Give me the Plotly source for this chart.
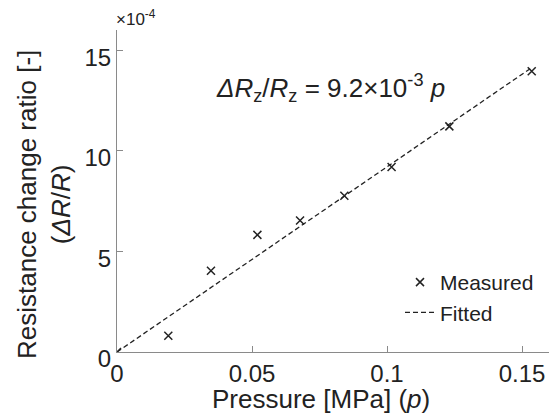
import plotly.graph_objects as go

# Data (y values in units of 1e-4)
pressure_mpa = [0.0, 0.019, 0.0348, 0.052, 0.0678, 0.0842, 0.1017, 0.1231, 0.1536]
ratio_e4 = [0.0, 0.81, 4.04, 5.82, 6.53, 7.76, 9.19, 11.21, 13.95]
fit_slope = 9.2e-3  # ratio per MPa
fit_p = [0.0, 0.1536]
fit_ratio_e4 = [fit_slope * p * 1e4 for p in fit_p]

x_tickvals = [0, 0.05, 0.1, 0.15]
x_ticktext = ["0", "0.05", "0.1", "0.15"]
y_tickvals = [0, 5, 10, 15]
y_ticktext = ["0", "5", "10", "15"]

FONT = "Liberation Sans, Arial, sans-serif"
AXCOL = "#8a8a8a"
TXT = "#222"

OFF = 8  # page body margin
W, H = 558 - OFF, 415 - OFF
# plot area in screen pixels: left 117, right 549, top 30, bottom 352
ML, MT = 117 - OFF, 30 - OFF
MR = W - (549 - OFF)
MB = H - (352 - OFF)
PW, PH = W - ML - MR, H - MT - MB


def px_x(px):
    return (px - OFF - ML) / PW


def px_y(py):
    return (H - MB - (py - OFF)) / PH


fig = go.Figure()
fig.add_trace(go.Scatter(
    x=fit_p, y=fit_ratio_e4, mode="lines", name="Fitted",
    line=dict(color=TXT, width=1.3, dash="5px,3px"),
))
fig.add_trace(go.Scatter(
    x=pressure_mpa, y=ratio_e4, mode="markers", name="Measured",
    marker=dict(symbol="x-thin", size=8, line=dict(color=TXT, width=1.5), color=TXT),
))

fig.update_layout(
    width=W, height=H,
    margin=dict(l=ML, r=MR, t=MT, b=MB, autoexpand=False),
    paper_bgcolor="white", plot_bgcolor="white",
    font=dict(family=FONT, color=TXT),
    showlegend=True,
    legend=dict(
        x=px_x(400), y=px_y(262), xanchor="left", yanchor="top",
        font=dict(size=21, family=FONT, color=TXT),
        bgcolor="rgba(0,0,0,0)", traceorder="reversed",
        itemwidth=30,
    ),
    xaxis=dict(
        range=[0, 0.16], tickvals=x_tickvals, ticktext=x_ticktext,
        showgrid=False, zeroline=False, showline=True, linecolor=AXCOL, linewidth=1,
        ticks="inside", ticklen=6, tickcolor=AXCOL, automargin=False,
        tickfont=dict(size=24, family=FONT, color=TXT),
    ),
    yaxis=dict(
        range=[0, 16], tickvals=y_tickvals, ticktext=y_ticktext,
        showgrid=False, zeroline=False, showline=True, linecolor=AXCOL, linewidth=1,
        ticks="inside", ticklen=6, tickcolor=AXCOL, automargin=False,
        tickfont=dict(size=24, family=FONT, color=TXT),
        ticklabelshift=7,
    ),
    annotations=[
        dict(text="Pressure [MPa] (<i>p</i>)", xref="paper", yref="paper",
             x=px_x(321), y=px_y(399), xanchor="center", yanchor="middle", showarrow=False,
             font=dict(size=26, family=FONT, color=TXT)),
        dict(text="Resistance change ratio [-]<br>(<i>ΔR</i>/<i>R</i>)", xref="paper", yref="paper",
             x=px_x(44), y=px_y(205), xanchor="center", yanchor="middle", showarrow=False,
             textangle=-90, font=dict(size=26, family=FONT, color=TXT)),
        dict(text="×10<sup>-4</sup>", xref="paper", yref="paper", x=px_x(114), y=px_y(31),
             xanchor="left", yanchor="bottom", showarrow=False,
             font=dict(size=17, family=FONT, color=TXT)),
        dict(text="<i>ΔR</i><sub>z</sub>/<i>R</i><sub>z</sub> = 9.2×10<sup>-3</sup> <i>p</i>",
             xref="paper", yref="paper", x=px_x(214), y=px_y(88),
             xanchor="left", yanchor="middle", showarrow=False,
             font=dict(size=26, family=FONT, color=TXT)),
    ],
)

fig.write_html("out.html")
